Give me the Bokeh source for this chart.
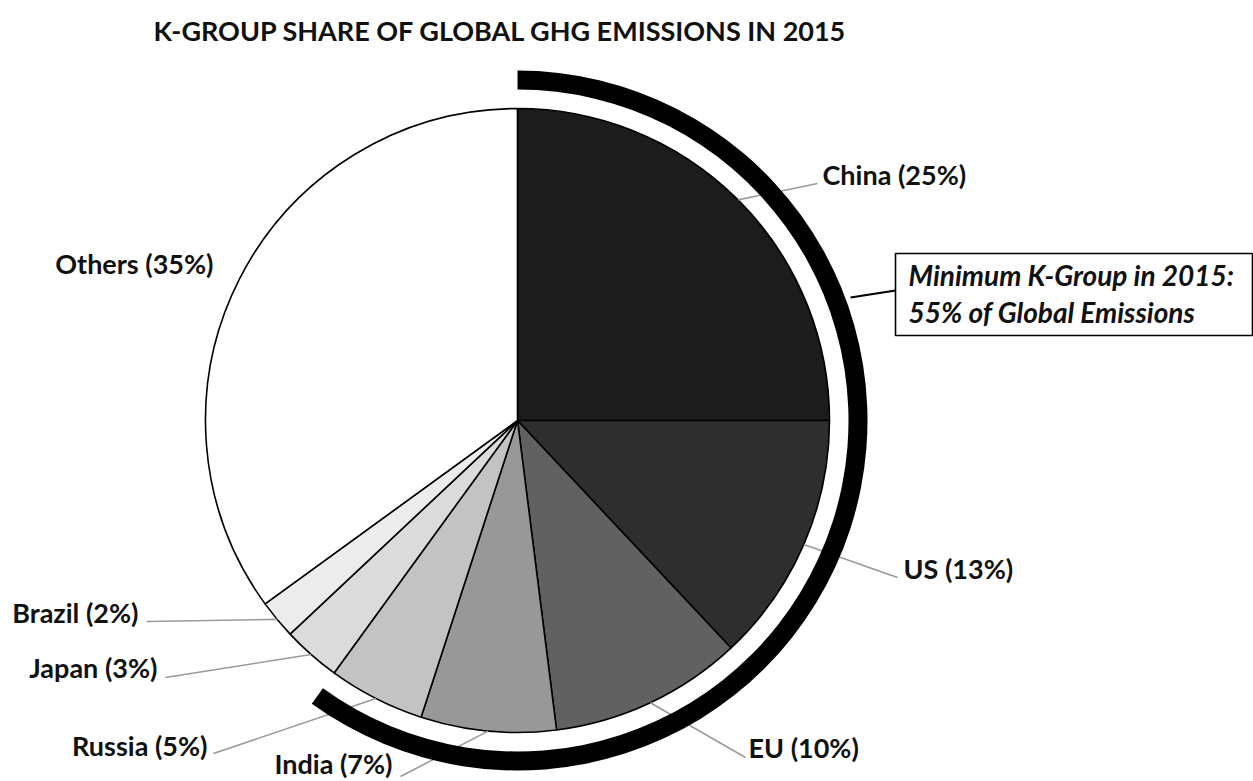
import numpy as np
from bokeh.plotting import figure
from bokeh.models import Range1d, ColumnDataSource
from bokeh.core.properties import value
from bokeh.embed import file_html
from bokeh.resources import INLINE

# --- data ---------------------------------------------------------------
regions = ["China", "US", "EU", "India", "Russia", "Japan", "Brazil", "Others"]
shares = [25, 13, 10, 7, 5, 3, 2, 35]
fills = ["#1c1c1c", "#2e2e2e", "#616161", "#989898", "#c3c3c3", "#dbdbdb", "#ececec", "#ffffff"]
kgroup_members = 5          # slices wrapped by the outer bracket arc
title = "K-GROUP SHARE OF GLOBAL GHG EMISSIONS IN 2015"
note_lines = ["Minimum K-Group in 2015:", "55% of Global Emissions"]

# --- layout (pixel space, y measured downwards then flipped) -------------
W, H = 1253, 781
CX, CY, R = 517, 420, 312
ARC_IN, ARC_OUT = 331, 350
FONT = "Lato"

# label anchor: (text x, text y, align, leader end x, leader end y)
label_pos = {
    "China":  (822, 174, "left", 817, 183),
    "US":     (903, 568, "left", 897, 577),
    "EU":     (748, 747, "left", 745, 757),
    "India":  (392, 763, "right", 400, 776),
    "Russia": (207, 745, "right", 213, 753),
    "Japan":  (157, 667, "right", 165, 677),
    "Brazil": (138, 612, "right", 146, 621),
    "Others": (213, 263, "right", None, None),
}


def fy(y):
    return H - y


p = figure(width=W, height=H, x_range=Range1d(0, W), y_range=Range1d(0, H),
           output_backend="svg", toolbar_location=None, min_border=0,
           x_axis_type=None, y_axis_type=None)
p.grid.visible = False
p.outline_line_color = None
p.background_fill_color = "white"

# pie slices, clockwise from 12 o'clock
total = float(sum(shares))
cum = np.concatenate([[0.0], np.cumsum(shares)]) / total
start = np.pi / 2 - 2 * np.pi * cum[1:]
end = np.pi / 2 - 2 * np.pi * cum[:-1]
src = ColumnDataSource(dict(region=regions, share=shares, start=start, end=end, fill=fills))
p.wedge(x=CX, y=fy(CY), radius=R, start_angle="start", end_angle="end",
        fill_color="fill", line_color="black", line_width=1.6, source=src)

# leader lines from slice mid-angles to their labels
mid = 2 * np.pi * (cum[:-1] + cum[1:]) / 2
for i, name in enumerate(regions):
    tx, ty, align, lx, ly = label_pos[name]
    if lx is not None:
        px = CX + R * np.sin(mid[i])
        py = CY - R * np.cos(mid[i])
        p.line([px, lx], [fy(py), fy(ly)], line_color="#9a9a9a", line_width=1.6)
    p.text(x=[tx], y=[fy(ty)], text=[f"{name} ({shares[i]}%)"],
           text_font=value(FONT), text_font_style="bold", text_font_size="27px",
           text_align=align, text_baseline="middle", text_color="#111111")

# bracket arc around the K-group members
arc_end = np.pi / 2 - 2 * np.pi * cum[kgroup_members]
p.annular_wedge(x=CX, y=fy(CY), inner_radius=ARC_IN, outer_radius=ARC_OUT,
                start_angle=arc_end, end_angle=np.pi / 2,
                fill_color="black", line_color=None)

# callout box
BX0, BY0, BX1, BY1 = 895, 253, 1252, 335
p.line([ARC_OUT + CX - 17, BX0], [fy(297), fy(290)], line_color="black", line_width=2.2)
p.quad(left=BX0, right=BX1, top=fy(BY0), bottom=fy(BY1),
       fill_color="white", line_color="black", line_width=1.6)
for k, line in enumerate(note_lines):
    p.text(x=[908], y=[fy(274 + 37 * k)], text=[line],
           text_font=value(FONT), text_font_style="bold italic", text_font_size="28px",
           text_align="left", text_baseline="middle", text_color="#111111")

# title
p.text(x=[500], y=[fy(30)], text=[title], text_font=value(FONT),
       text_font_style="bold", text_font_size="27px", text_align="center",
       text_baseline="middle", text_color="#111111")

open("out.html", "w").write(file_html(p, INLINE))
